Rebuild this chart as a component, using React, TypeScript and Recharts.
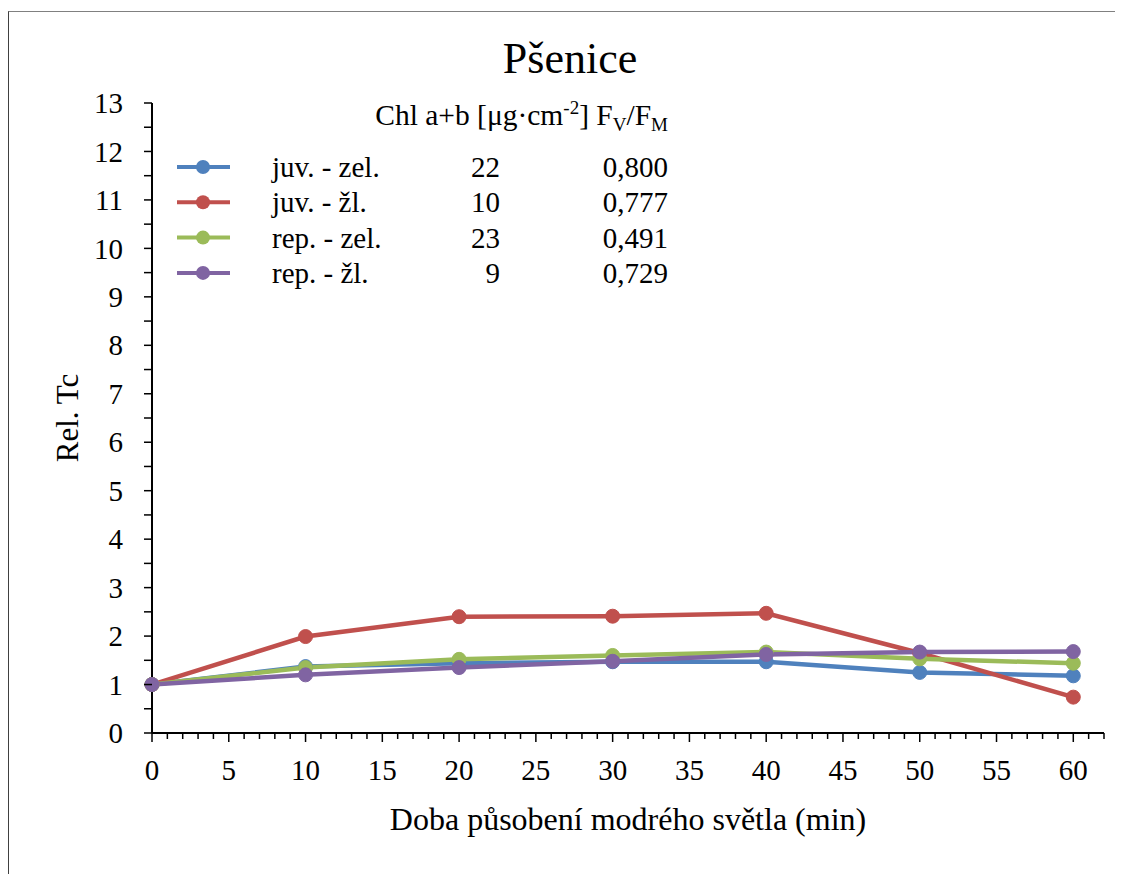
import React from "react";
import { LineChart, Line, XAxis, YAxis, Legend } from "recharts";

const time = [0, 10, 20, 30, 40, 50, 60];
const juvZel = [1, 1.37, 1.44, 1.47, 1.47, 1.25, 1.18];
const juvZl = [1, 1.99, 2.4, 2.41, 2.47, 1.65, 0.74];
const repZel = [1, 1.35, 1.52, 1.6, 1.67, 1.53, 1.44];
const repZl = [1, 1.2, 1.35, 1.48, 1.62, 1.67, 1.68];

const seriesNames = ["juv. - zel.", "juv. - žl.", "rep. - zel.", "rep. - žl."];
const chlValues = ["22", "10", "23", "9"];
const fvfmValues = ["0,800", "0,777", "0,491", "0,729"];
const colors = ["#4f81bd", "#c0504d", "#9bbb59", "#8064a2"];
const keys = ["juvZel", "juvZl", "repZel", "repZl"];

const yTicks = Array.from({ length: 27 }, (_, i) => i / 2);
const xTicks = Array.from({ length: 63 }, (_, i) => i);

const data = time.map((t, i) => ({
  t,
  juvZel: juvZel[i],
  juvZl: juvZl[i],
  repZel: repZel[i],
  repZl: repZl[i],
}));

const FONT = '"Liberation Serif", "Times New Roman", serif';
const txt = (size: number) => ({ fontFamily: FONT, fontSize: size, fill: "#000" });

const YTick = (props: any) => {
  const { x, y, payload } = props;
  const v = payload.value;
  return (
    <g>
      <line x1={x - 8} x2={x} y1={y} y2={y} stroke="#000" strokeWidth={1.5} />
      {Number.isInteger(v) && (
        <text x={x - 29} y={y} dy="0.35em" textAnchor="end" style={txt(29)}>
          {v}
        </text>
      )}
    </g>
  );
};

const XTick = (props: any) => {
  const { x, y, payload } = props;
  const v = payload.value;
  const major = v % 5 === 0;
  return (
    <g>
      <line x1={x} x2={x} y1={y} y2={y + (major ? 9 : 6)} stroke="#000" strokeWidth={1.5} />
      {major && v <= 60 && (
        <text x={x} y={y + 37} dy="0.35em" textAnchor="middle" style={txt(29)}>
          {v}
        </text>
      )}
    </g>
  );
};

// legend with extra columns (chlorophyll, Fv/Fm)
const LegendBox = () => (
  <svg width={700} height={300} style={{ display: "block" }}>
    <text x={659} y={113} textAnchor="end" style={txt(29.5)}>
      Chl a+b [μg·cm
      <tspan dy={-11} style={{ fontSize: 19 }}>-2</tspan>
      <tspan dy={11}>] F</tspan>
      <tspan dy={6} style={{ fontSize: 19 }}>V</tspan>
      <tspan dy={-6}>/F</tspan>
      <tspan dy={6} style={{ fontSize: 19 }}>M</tspan>
    </text>
    {seriesNames.map((name, i) => {
      const cy = 155 + i * 35.3;
      return (
        <g key={name}>
          <line x1={168} x2={221} y1={cy} y2={cy} stroke={colors[i]} strokeWidth={4} />
          <circle cx={194} cy={cy} r={7} fill={colors[i]} />
          <text x={263} y={cy} dy="0.35em" style={txt(29)}>
            {name}
          </text>
          <text x={491} y={cy} dy="0.35em" textAnchor="end" style={txt(29)}>
            {chlValues[i]}
          </text>
          <text x={659} y={cy} dy="0.35em" textAnchor="end" style={txt(29)}>
            {fvfmValues[i]}
          </text>
        </g>
      );
    })}
  </svg>
);

export default function App() {
  return (
    <div
      style={{
        marginTop: 3,
        borderTop: "1px solid #808080",
        borderLeft: "1px solid #404040",
        position: "relative",
        width: 1113,
        height: 862,
        background: "#fff",
      }}
    >
      <svg width={1113} height={100} style={{ position: "absolute", left: 0, top: 0, pointerEvents: "none" }}>
        <text x={561} y={61} textAnchor="middle" style={txt(44)}>
          Pšenice
        </text>
      </svg>
      <LineChart width={1113} height={862} data={data} margin={{ top: 91, right: 18, bottom: 81, left: 63 }}>
        <XAxis
          dataKey="t"
          type="number"
          domain={[0, 62]}
          ticks={xTicks}
          interval={0}
          height={60}
          tickSize={0}
          tickMargin={0}
          tickLine={false}
          tick={<XTick />}
          axisLine={{ stroke: "#000", strokeWidth: 2 }}
          label={(p: any) => (
            <text
              x={p.viewBox.x + p.viewBox.width / 2}
              y={p.viewBox.y + 97}
              textAnchor="middle"
              style={txt(32)}
            >
              Doba působení modrého světla (min)
            </text>
          )}
        />
        <YAxis
          type="number"
          domain={[0, 13]}
          ticks={yTicks}
          interval={0}
          width={80}
          tickSize={0}
          tickMargin={0}
          tickLine={false}
          tick={<YTick />}
          axisLine={{ stroke: "#000", strokeWidth: 2 }}
          label={(p: any) => {
            const cx = p.viewBox.x - 5;
            const cy = p.viewBox.y + p.viewBox.height / 2;
            return (
              <text
                x={cx}
                y={cy}
                dy="0.35em"
                textAnchor="middle"
                transform={`rotate(-90 ${cx} ${cy})`}
                style={txt(31)}
              >
                Rel. Tc
              </text>
            );
          }}
        />
        <Legend
          layout="horizontal"
          verticalAlign="middle"
          wrapperStyle={{ top: 0, left: 0, width: 700, height: 300 }}
          content={() => <LegendBox />}
        />
        {keys.map((k, i) => (
          <Line
            key={k}
            dataKey={k}
            name={seriesNames[i]}
            stroke={colors[i]}
            strokeWidth={4.5}
            dot={{ r: 7, fill: colors[i], stroke: colors[i], strokeWidth: 1 }}
            isAnimationActive={false}
          />
        ))}
      </LineChart>
    </div>
  );
}
